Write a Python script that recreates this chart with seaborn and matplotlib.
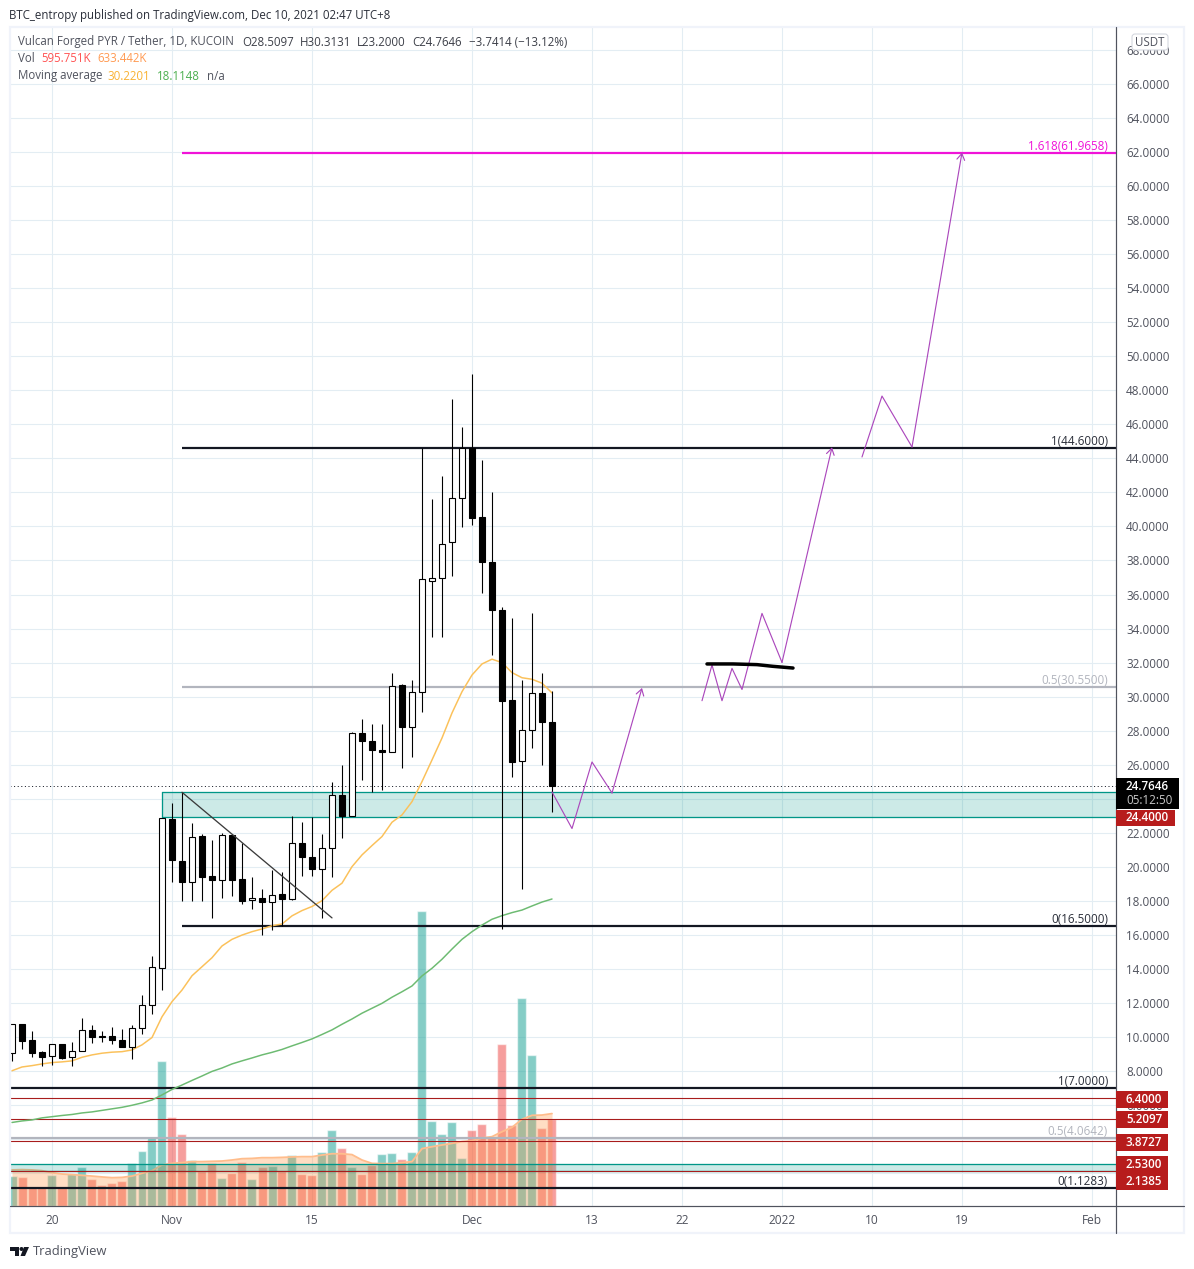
import numpy as np
import pandas as pd
import matplotlib
matplotlib.use("Agg")
import matplotlib.pyplot as plt
from matplotlib.patches import Rectangle, FancyBboxPatch, Polygon, Circle
from matplotlib.lines import Line2D
import seaborn as sns

# ---------- data ----------
opens = [9.05,10.75,9.81,9.10,8.87,9.57,8.81,9.16,10.40,10.04,10.04,9.81,9.43,10.55,11.86,14.04,22.81,20.35,19.09,21.81,
         19.46,19.21,21.87,19.29,18.04,18.15,17.92,18.39,18.13,21.39,20.56,19.86,21.09,24.20,23.01,27.85,27.40,26.87,26.73,30.69,
         28.24,30.26,36.81,36.95,39.07,41.65,44.61,40.53,37.91,35.09,29.80,26.20,28.02,30.20,28.5097]
highs = [10.75,10.75,10.34,9.18,9.57,9.57,9.71,11.12,10.69,10.34,10.57,10.47,10.71,12.47,14.74,22.85,23.75,24.38,22.58,21.93,
         21.58,21.97,21.87,21.39,19.41,18.70,19.82,19.68,22.97,22.64,22.93,21.93,24.99,25.98,27.91,28.69,28.39,28.39,31.37,30.74,
         30.98,44.61,41.61,42.95,47.47,45.84,48.96,43.90,42.02,35.27,34.60,30.98,34.92,31.37,30.3131]
lows = [8.61,9.32,8.85,8.32,8.36,8.71,8.32,9.16,9.67,9.73,9.61,9.43,8.73,10.20,11.37,12.78,19.13,18.01,18.01,18.01,
        17.01,18.19,18.31,17.84,17.54,16.02,16.31,16.53,18.07,19.48,19.48,17.01,19.42,21.72,23.01,25.12,24.42,24.53,26.73,25.79,
        26.47,29.12,33.52,33.52,37.11,39.99,40.09,36.11,32.45,16.33,25.30,18.72,27.00,26.00,23.20]
closes = [10.75,9.79,9.08,8.85,9.57,8.79,9.16,10.40,10.02,10.02,9.84,9.43,10.51,11.86,14.10,22.85,20.42,19.13,21.74,19.42,
          19.25,21.87,19.25,18.01,18.15,17.95,18.33,18.13,21.39,20.60,19.89,21.13,24.20,23.01,27.85,27.41,26.88,26.77,30.61,28.24,
          30.26,36.90,36.95,38.95,41.65,44.61,40.51,37.93,35.11,29.76,26.18,28.02,30.20,28.51,24.7646]
ma_fast = [8.02,8.24,8.32,8.42,8.50,8.54,8.60,8.81,8.95,9.05,9.11,9.14,9.24,9.54,9.97,11.19,12.08,12.76,13.60,14.13,
           14.66,15.35,15.74,15.99,16.19,16.35,16.54,16.64,17.12,17.43,17.67,18.01,18.62,19.04,20.01,20.70,21.25,21.78,22.62,23.05,
           23.83,25.01,26.28,27.57,29.04,30.29,31.27,31.92,32.20,32.00,31.41,31.11,31.02,30.79,30.22]
ma_slow = [4.98,5.07,5.13,5.25,5.32,5.39,5.45,5.54,5.60,5.69,5.78,5.87,5.99,6.13,6.30,6.60,6.92,7.18,7.45,7.71,
           7.98,8.18,8.42,8.60,8.77,8.95,9.10,9.27,9.48,9.68,9.89,10.15,10.42,10.75,11.06,11.40,11.69,11.98,12.34,12.66,
           13.00,13.59,14.04,14.57,15.17,15.74,16.19,16.58,16.92,17.13,17.31,17.46,17.70,17.93,18.11]
volume_k = [205,199,132,132,212,128,219,267,185,144,158,171,295,377,473,993,610,493,315,240,
            295,192,226,301,185,267,274,240,349,219,212,370,521,397,267,219,281,356,363,322,
            370,2020,582,493,575,329,521,562,475,1110,555,1425,1034,534,596]
volume_up = [1,0,0,0,1,0,1,1,0,0,0,0,1,1,1,1,0,0,1,0,
             0,1,0,0,1,0,1,0,1,0,0,1,1,0,1,0,0,1,1,0,
             1,1,1,1,1,1,0,0,0,0,0,1,1,0,0]
volume_ma_k = [247,249,247,242,228,219,215,210,205,199,194,196,205,224,242,281,292,297,304,304,
               306,308,315,324,326,331,331,333,336,338,338,349,358,358,352,315,292,290,290,297,
               304,393,406,418,429,441,447,466,475,509,539,594,621,623,633]

date_ticks = [4,16,30,46,58,67,77,86,95,108]
date_labels = ["20","Nov","15","Dec","13","22","2022","10","19","Feb"]
price_ticks = list(range(2,70,2))
hidden_price_labels = [2,4,24]

path_1_x = [54,56,58,60,63];           path_1_y = [24.40,22.25,26.16,24.34,30.51]
path_2_x = [69,70,71,72,73,75,77,82];  path_2_y = [29.76,31.86,29.76,31.66,30.42,34.89,32.01,44.65]
path_3_x = [85,87,90,95];              path_3_y = [44.08,47.66,44.67,61.97]
stroke_x = [69.5,72.1,74.5,76.1,78.1]; stroke_y = [31.92,31.92,31.88,31.78,31.68]
trend_x = [17,32];                     trend_y = [24.38,17.0]

fib_upper = [(61.9658,"1.618(61.9658)","#f013d8",2.2),(44.6,"1(44.6000)","#131722",2.2),
             (30.55,"0.5(30.5500)","#b2b5be",2.2),(16.5,"0(16.5000)","#131722",2.2)]
fib_lower = [(7.0,"1(7.0000)","#131722",2.2),(4.0642,"0.5(4.0642)","#b2b5be",2.2),(1.1283,"0(1.1283)","#131722",2.2)]
red_levels = [6.4,5.2097,3.8727,2.1385]
zone_upper = (22.90,24.40)
zone_lower = (2.1385,2.53)
last_close = 24.7646

# ---------- layout ----------
W,H = 1194,1269
sns.set_theme(style="white")
FONT = ["Open Sans","DejaVu Sans"]
plt.rcParams["font.family"] = FONT
TXT = "#50535e"; GRID = "#e3edf3"; FRAME = "#f0f3fa"; TEAL = "#009688"
PX = 0.72

def fx(x): return x/W
def fy(y): return 1-y/H

fig = plt.figure(figsize=(W/100,H/100),dpi=100,facecolor="white")
L,R,T,B = 10,1116,27,1206
rect = [fx(L),fy(B),(R-L)/W,(B-T)/H]
ax_bg = fig.add_axes(rect)
ax_vol = fig.add_axes(rect,frameon=False)
ax = fig.add_axes(rect,frameon=False)

XLIM = (-0.2,110.4)
YLIM = (70.93-B/17.02,70.93-T/17.02)
idx = np.arange(len(closes))

# grid + price/date scales
ax_bg.set_xlim(*XLIM); ax_bg.set_ylim(*YLIM)
ax_bg.set_xticks(date_ticks); ax_bg.set_xticklabels(date_labels)
ax_bg.yaxis.tick_right()
ax_bg.set_yticks(price_ticks)
ax_bg.set_yticklabels(["" if p in hidden_price_labels else f"{p:.4f}" for p in price_ticks])
ax_bg.tick_params(axis="y",length=0,pad=7.2,labelsize=8.4,labelcolor=TXT)
ax_bg.tick_params(axis="x",length=0,pad=6,labelsize=8.6,labelcolor=TXT)
ax_bg.grid(True,color=GRID,lw=PX*1.1)
ax_bg.set_axisbelow(True)
for s in ax_bg.spines.values(): s.set_visible(False)

# volume
vol_df = pd.DataFrame({"i":idx,"v":volume_k,"up":["up" if u else "down" for u in volume_up]})
sns.barplot(data=vol_df,x="i",y="v",hue="up",native_scale=True,dodge=False,width=0.9,gap=0,
            palette={"up":"#26a69a","down":"#ef5350"},saturation=1,alpha=0.56,errorbar=None,
            legend=False,ax=ax_vol,zorder=1)
ax_vol.fill_between(idx,volume_ma_k,0,color="#ff8f3a",alpha=0.30,lw=0,zorder=2)
sns.lineplot(x=idx,y=volume_ma_k,color="#ffbd8c",lw=1.3,ax=ax_vol,zorder=3,errorbar=None)
ax_vol.set_xlim(*XLIM); ax_vol.set_ylim(0,(B-T)*6.85)
ax_vol.axis("off")

# zones
for (lo,hi),x0 in ((zone_upper,15),(zone_lower,XLIM[0])):
    ax.add_patch(Rectangle((x0,lo),XLIM[1]-x0,hi-lo,facecolor=TEAL,alpha=0.2,lw=0,zorder=1))
    ax.plot([x0,XLIM[1]],[hi,hi],color=TEAL,lw=PX*1.3,zorder=2)
    ax.plot([x0,XLIM[1]],[lo,lo],color=TEAL,lw=PX*1.3,zorder=2)
ax.plot([15,15],list(zone_upper),color=TEAL,lw=PX*1.3,zorder=2)

# horizontal levels
for v in red_levels:
    ax.plot(XLIM,[v,v],color="#a81c1c",lw=PX*1.1,zorder=2.5)
for v,_,c,w in fib_upper:
    ax.plot([17,XLIM[1]],[v,v],color=c,lw=w*PX,zorder=3,solid_capstyle="butt")
for v,_,c,w in fib_lower:
    ax.plot(XLIM,[v,v],color=c,lw=w*PX,zorder=3,solid_capstyle="butt")
ax.plot(XLIM,[last_close,last_close],color="#131722",lw=PX,ls=(0,(1,2.6)),zorder=3)

# moving averages
sns.lineplot(x=idx,y=ma_fast,color="#fbc15a",lw=1.25*PX*1.2,ax=ax,zorder=4,errorbar=None)
sns.lineplot(x=idx,y=ma_slow,color="#6dbb72",lw=1.25*PX*1.2,ax=ax,zorder=4,errorbar=None)

# candles
o,h_,l_,c_ = map(np.array,(opens,highs,lows,closes))
ax.vlines(idx,l_,h_,color="black",lw=PX*1.1,zorder=5)
up = c_>=o
bottom = np.minimum(o,c_); height = np.abs(c_-o)
ax.bar(idx[up],height[up],bottom=bottom[up],width=0.55,facecolor="white",edgecolor="black",lw=PX*1.1,zorder=6)
ax.bar(idx[~up],height[~up],bottom=bottom[~up],width=0.55,facecolor="black",edgecolor="black",lw=PX*1.1,zorder=6)

# drawings
ax.plot(trend_x,trend_y,color="#3a3a3a",lw=PX*1.3,zorder=7)
PURPLE = "#ab47bc"
for xs,ys in ((path_1_x,path_1_y),(path_2_x,path_2_y),(path_3_x,path_3_y)):
    ax.plot(xs[:-1],ys[:-1],color=PURPLE,lw=PX*1.15,zorder=7)
    ax.annotate("",xy=(xs[-1],ys[-1]),xytext=(xs[-2],ys[-2]),zorder=7,
                arrowprops=dict(arrowstyle="->,head_length=0.45,head_width=0.28",color=PURPLE,lw=PX*1.15,
                                shrinkA=0,shrinkB=0,mutation_scale=10))
ax.plot(stroke_x,stroke_y,color="black",lw=2.5,zorder=7,solid_capstyle="round")
ax.set_xlim(*XLIM); ax.set_ylim(*YLIM)
ax.axis("off")

# level captions
for v,t,c,_ in fib_upper+fib_lower:
    col = c if c!="#131722" else "#2a2e39"
    fig.text(fx(1108),fy(70.93*17.02-v*17.02-6.5),t,color=col,fontsize=8.4,ha="right",va="center",zorder=12)

# frame and axis lines
fig.add_artist(Rectangle((fx(10),fy(1233)),(1184-10)/W,(1233-27)/H,transform=fig.transFigure,
                         fill=False,edgecolor=FRAME,lw=1.6,zorder=8))
fig.add_artist(Line2D([fx(10),fx(1184)],[fy(1206),fy(1206)],color=TXT,lw=PX*1.2,zorder=9))
fig.add_artist(Line2D([fx(1116),fx(1116)],[fy(27),fy(1233)],color=TXT,lw=PX*1.2,zorder=9))

def tag(y0,y1,x1,color):
    fig.add_artist(Rectangle((fx(1116),fy(y1)),(x1-1116)/W,(y1-y0)/H,transform=fig.transFigure,
                             facecolor=color,edgecolor="none",zorder=10))

for y0,y1,s in ((1091,1108,"6.4000"),(1111,1127.7,"5.2097"),(1134,1150.7,"3.8727"),
                (1156.3,1172.7,"2.5300"),(1173.3,1189.7,"2.1385")):
    tag(y0,y1,1168,"#b71c1c")
    fig.text(fx(1126),fy((y0+y1)/2),s,color="white",fontsize=8.4,fontweight="semibold",va="center",ha="left",zorder=12)
tag(778,808.5,1179,"black")
fig.text(fx(1126),fy(786.5),"24.7646",color="white",fontsize=8.4,fontweight="semibold",va="center",ha="left",zorder=12)
fig.text(fx(1126),fy(800),"05:12:50",color="#c8c8c8",fontsize=8.4,va="center",ha="left",zorder=12)
tag(809.5,826,1175,"#b71c1c")
fig.text(fx(1126),fy(817.5),"24.4000",color="white",fontsize=8.4,fontweight="semibold",va="center",ha="left",zorder=12)

fig.add_artist(FancyBboxPatch((1132,H-50),36,16,boxstyle="round,pad=0,rounding_size=3",
                              transform=None,facecolor="white",edgecolor="#d1d4dc",lw=PX,zorder=10))
fig.text(fx(1150),fy(42.5),"USDT",color=TXT,fontsize=8.3,ha="center",va="center",zorder=12)

# header texts
DARK = "#3c3f48"
fig.text(fx(9),fy(15),"BTC_entropy published on TradingView.com, Dec 10, 2021 02:47 UTC+8",color="#2a2e39",fontsize=8.3,va="center",zorder=12)
for x,y,s,c in ((18,42,"Vulcan Forged PYR / Tether, 1D, KUCOIN",TXT),
                (242,42,"O28.5097",DARK),(300,42,"H30.3131",DARK),(357,42,"L23.2000",DARK),(412.5,42,"C24.7646",DARK),
                (469,42,"−3.7414 (−13.12%)",DARK),
                (18,59,"Vol",TXT),(41,59,"595.751K","#ff5252"),(97.5,59,"633.442K","#ff9a52"),
                (18,76,"Moving average",TXT),(107.5,76,"30.2201","#f9b233"),(157,76,"18.1148","#4caf50"),(207,76,"n/a",TXT)):
    fig.text(fx(x),fy(y),s,color=c,fontsize=8.3,va="center",zorder=12)

# footer logo + wordmark
fig.add_artist(Polygon([(fx(10),fy(1247)),(fx(19),fy(1247)),(fx(19),fy(1256)),(fx(15),fy(1256)),(fx(15),fy(1251)),(fx(10),fy(1251))],
                       closed=True,transform=fig.transFigure,facecolor="#131722",edgecolor="none",zorder=10))
fig.add_artist(Polygon([(fx(24),fy(1247)),(fx(29),fy(1247)),(fx(25),fy(1256)),(fx(20.5),fy(1256))],
                       closed=True,transform=fig.transFigure,facecolor="#131722",edgecolor="none",zorder=10))
fig.add_artist(Circle((21.5,H-1249),2,transform=None,facecolor="#131722",edgecolor="none",zorder=10))
fig.text(fx(33),fy(1251),"TradingView",color=TXT,fontsize=9.4,va="center",zorder=12)

fig.savefig("out.png",dpi=100,facecolor="white")
